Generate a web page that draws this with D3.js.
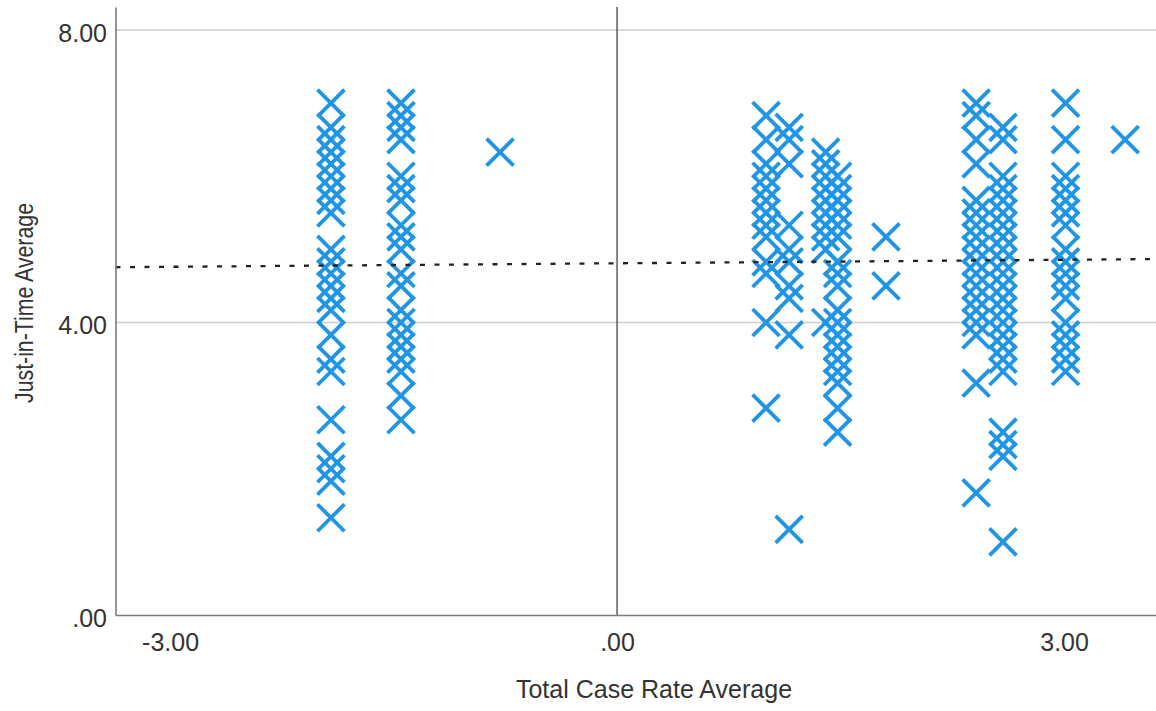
<!DOCTYPE html>
<html>
<head>
<meta charset="utf-8">
<script src="https://cdn.jsdelivr.net/npm/d3@7"></script>
<style>
  body { margin: 0; background: #fff; }
  text { font-family: "Liberation Sans", Arial, sans-serif; fill: #333; }
</style>
</head>
<body>
<svg id="chart" width="1156" height="711"></svg>
<script>
// x value of each vertical stack of points (Total Case Rate Average)
const caseRate = [-1.92, -1.45, -0.785, 1.0, 1.155, 1.4, 1.48, 1.805, 2.41, 2.59, 3.01, 3.41];

// Just-in-Time Average values in each stack, same order as caseRate
const jitValues = [
  [7.0, 6.67, 6.5, 6.33, 6.17, 6.0, 5.83, 5.67, 5.5, 5.0, 4.83, 4.67, 4.5, 4.33, 4.17, 3.83, 3.5, 3.33, 2.67, 2.17, 2.0, 1.83, 1.33],
  [7.0, 6.83, 6.67, 6.5, 6.0, 5.83, 5.67, 5.33, 5.17, 5.0, 4.67, 4.5, 4.17, 4.0, 3.83, 3.67, 3.5, 3.33, 3.0, 2.67],
  [6.33],
  [6.83, 6.5, 6.17, 6.0, 5.83, 5.67, 5.5, 5.33, 5.17, 4.83, 4.67, 4.0, 2.83],
  [6.67, 6.5, 6.17, 5.33, 5.0, 4.83, 4.5, 4.33, 3.83, 1.17],
  [6.33, 6.17, 6.0, 5.83, 5.67, 5.5, 5.33, 5.17, 5.0, 4.0],
  [6.0, 5.83, 5.67, 5.5, 5.33, 5.17, 4.83, 4.67, 4.5, 4.17, 4.0, 3.83, 3.67, 3.5, 3.33, 3.17, 2.83, 2.5],
  [5.17, 4.5],
  [7.0, 6.83, 6.5, 6.17, 5.67, 5.5, 5.33, 5.17, 5.0, 4.83, 4.67, 4.5, 4.33, 4.17, 4.0, 3.83, 3.17, 1.67],
  [6.67, 6.5, 6.0, 5.83, 5.67, 5.5, 5.33, 5.17, 5.0, 4.83, 4.67, 4.5, 4.33, 4.17, 4.0, 3.83, 3.67, 3.5, 3.33, 2.5, 2.33, 2.17, 1.0],
  [7.0, 6.5, 6.0, 5.83, 5.67, 5.5, 5.33, 5.0, 4.83, 4.67, 4.5, 4.33, 4.0, 3.83, 3.67, 3.5, 3.33],
  [6.5]
];

const xTicks = [-3, 0, 3];
const yTicks = [0, 4, 8];
const gridValues = [4, 8];
// linear fit line
const fitIntercept = 4.81;
const fitSlope = 0.016;

const points = [];
caseRate.forEach((cx, i) => {
  jitValues[i].forEach((v) => points.push({ x: cx, y: v }));
});

const svg = d3.select('#chart');
const plotLeft = 115.5;
const plotRight = 1156;
const plotTop = 7;
const plotBottom = 615;

const x = d3.scaleLinear().domain([-3.366, 3.617]).range([plotLeft, plotRight]);
const y = d3.scaleLinear().domain([0, 8.315]).range([plotBottom, plotTop]);

// SPSS style: ".00" for zero, plain hyphen for negatives
const fmt = (d) => (d === 0 ? '.00' : d.toFixed(2));

// gridlines
svg.append('g')
  .selectAll('line')
  .data(gridValues)
  .join('line')
  .attr('x1', plotLeft)
  .attr('x2', plotRight)
  .attr('y1', (d) => y(d))
  .attr('y2', (d) => y(d))
  .attr('stroke', '#cdcdcd')
  .attr('stroke-width', 1.6);

// reference line at x = 0
svg.append('line')
  .attr('x1', x(0)).attr('x2', x(0))
  .attr('y1', plotTop).attr('y2', plotBottom)
  .attr('stroke', '#333')
  .attr('stroke-width', 1.2);

// markers
const s = 13.5;
svg.append('g')
  .selectAll('path')
  .data(points)
  .join('path')
  .attr('transform', (d) => `translate(${x(d.x)},${y(d.y)})`)
  .attr('d', `M${-s},${-s}L${s},${s}M${-s},${s}L${s},${-s}`)
  .attr('fill', 'none')
  .attr('stroke', '#1f95e4')
  .attr('stroke-width', 3.8);

// fit line
const [x0, x1] = x.domain();
svg.append('line')
  .attr('x1', x(x0)).attr('x2', x(x1))
  .attr('y1', y(fitIntercept + fitSlope * x0))
  .attr('y2', y(fitIntercept + fitSlope * x1))
  .attr('stroke', '#222')
  .attr('stroke-width', 2.3)
  .attr('stroke-dasharray', '5,9.5');

// axes
const yAxis = svg.append('g')
  .attr('transform', `translate(${plotLeft},0)`)
  .call(d3.axisLeft(y).tickValues(yTicks).tickFormat(fmt).tickSize(0).tickPadding(8.5));
yAxis.selectAll('text').attr('dy', '0.45em');

const xAxis = svg.append('g')
  .attr('transform', `translate(0,${plotBottom})`)
  .call(d3.axisBottom(x).tickValues(xTicks).tickFormat(fmt).tickSize(0).tickPadding(18));

[yAxis, xAxis].forEach((a) => {
  a.select('.domain').attr('stroke', '#7a7a7a').attr('stroke-width', 1.6);
  a.selectAll('text')
    .attr('font-size', 25)
    .attr('fill', '#333')
    .style('font-family', '"Liberation Sans", Arial, sans-serif');
});

// axis titles
svg.append('text')
  .attr('x', 654)
  .attr('y', 698)
  .attr('text-anchor', 'middle')
  .attr('font-size', 25)
  .text('Total Case Rate Average');

svg.append('text')
  .attr('transform', 'translate(33,303) rotate(-90)')
  .attr('text-anchor', 'middle')
  .attr('font-size', 26)
  .attr('textLength', 200)
  .attr('lengthAdjust', 'spacingAndGlyphs')
  .text('Just-in-Time Average');
</script>
</body>
</html>
